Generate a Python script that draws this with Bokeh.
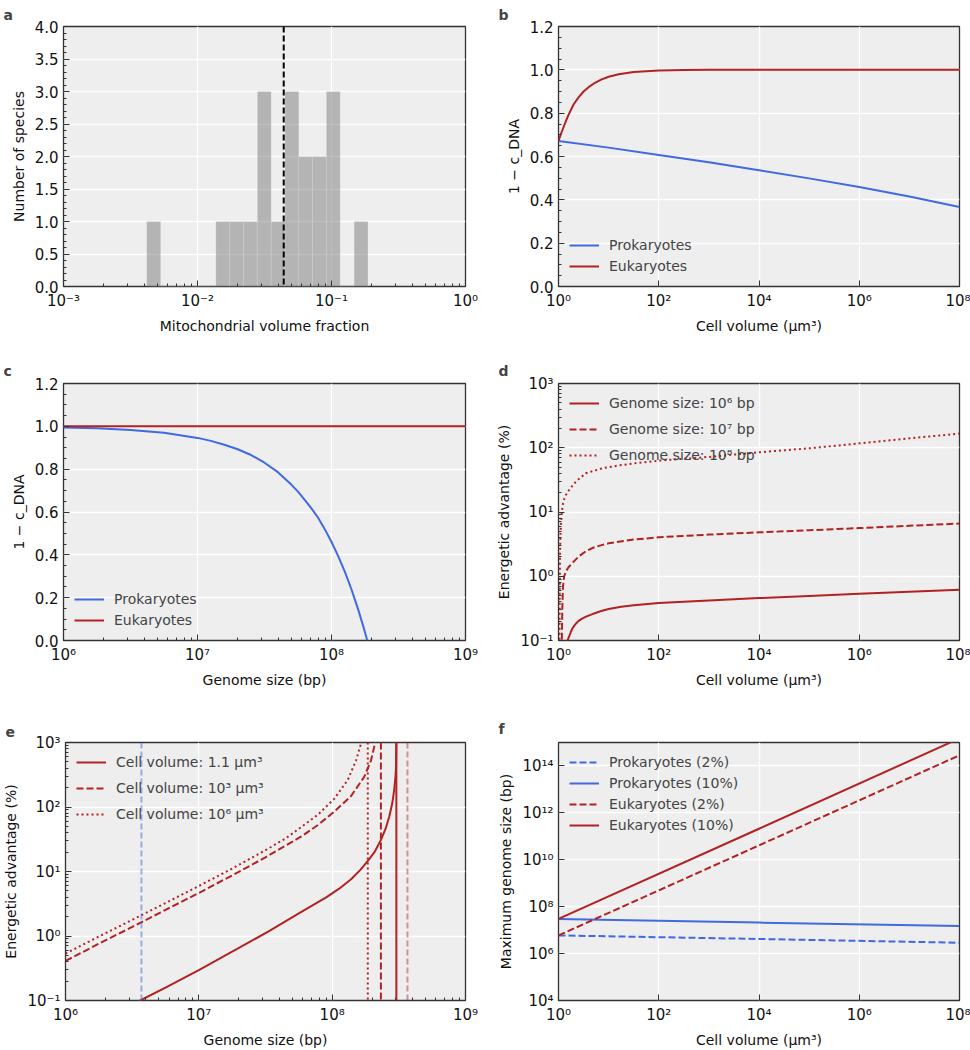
import numpy as np
from bokeh.plotting import figure
from bokeh.models import FixedTicker, CustomJSTickFormatter, PrintfTickFormatter, Span, Range1d
from bokeh.layouts import column, row
from bokeh.embed import file_html
from bokeh.resources import INLINE

FONT = "DejaVu Sans"
BG = "#eeeeee"
BLUE = "#4169e1"
RED = "#b22222"
DARK = "#333333"
TICK_FS = "15px"
LABEL_FS = "14px"
LEG_FS = "14px"
DASH = "7 3"
DOT = "2 3"

# ---------------- data ----------------
# (a) histogram of mitochondrial volume fraction (log10 bin edges, counts)
hist_log_edges = [-2.379, -2.275, -2.172, -2.069, -1.966, -1.863, -1.760, -1.657, -1.553,
                  -1.450, -1.347, -1.244, -1.141, -1.038, -0.935, -0.831, -0.728]
hist_counts = [1, 0, 0, 0, 0, 1, 1, 1, 3, 1, 3, 2, 2, 3, 0, 1]
mito_mean = 0.044

# (b) 1 - c_DNA vs cell volume
b_log_vol_prok = [0, 1, 2, 3, 4, 5, 6, 7, 8]
b_prok = [0.672, 0.641, 0.607, 0.573, 0.537, 0.499, 0.459, 0.415, 0.367]
b_log_vol_euk = [0, 0.05, 0.1, 0.15, 0.2, 0.3, 0.4, 0.5, 0.6, 0.7, 0.85, 1.0, 1.2, 1.5,
                 2.0, 2.5, 3.0, 8.0]
b_euk = [0.672, 0.705, 0.735, 0.765, 0.792, 0.84, 0.873, 0.9, 0.92, 0.936, 0.955, 0.968,
         0.98, 0.99, 0.997, 0.999, 1.0, 1.0]

# (c) 1 - c_DNA vs genome size
c_log_genome_prok = [6.0, 6.25, 6.5, 6.75, 7.0, 7.1, 7.2, 7.3, 7.4, 7.5, 7.6, 7.7, 7.75, 7.8,
                     7.85, 7.9, 7.95, 8.0, 8.05, 8.1, 8.15, 8.2, 8.24, 8.267]
c_prok = [0.995, 0.991, 0.983, 0.970, 0.946, 0.932, 0.914, 0.893, 0.866, 0.830, 0.786, 0.728,
          0.695, 0.657, 0.617, 0.573, 0.520, 0.460, 0.394, 0.320, 0.237, 0.143, 0.06, 0.0]
c_log_genome_euk = [6.0, 9.0]
c_euk = [1.0, 1.0]

# (d) energetic advantage vs cell volume
d_log_vol_1e6 = [0.16, 0.18, 0.2, 0.22, 0.25, 0.28, 0.32, 0.36, 0.41, 0.47, 0.55, 0.65, 0.75,
                 0.87, 1.0, 1.25, 1.5, 2.0, 3.0, 4.0, 5.0, 6.0, 7.0, 8.0]
d_adv_1e6 = [0.08, 0.1, 0.11, 0.12, 0.138, 0.155, 0.172, 0.188, 0.204, 0.219, 0.235, 0.253,
             0.27, 0.29, 0.31, 0.335, 0.353, 0.383, 0.42, 0.457, 0.494, 0.532, 0.572, 0.614]
d_log_vol_1e7 = [0.062, 0.066, 0.075, 0.09, 0.113, 0.15, 0.2, 0.28, 0.4, 0.545, 0.7, 0.877,
                 1.0, 1.3, 1.5, 2.0, 3.0, 4.0, 5.0, 6.0, 7.0, 8.0]
d_adv_1e7 = [0.05, 0.09, 0.3, 0.7, 1.0, 1.2, 1.38, 1.62, 2.02, 2.45, 2.8, 3.08, 3.25, 3.55,
             3.72, 4.04, 4.45, 4.82, 5.2, 5.62, 6.1, 6.6]
d_log_vol_1e8 = [0.018, 0.02, 0.024, 0.03, 0.04, 0.05, 0.066, 0.09, 0.12, 0.17, 0.25, 0.35,
                 0.545, 0.877, 1.2, 1.5, 2.0, 3.0, 4.0, 5.0, 6.0, 7.0, 8.0]
d_adv_1e8 = [0.05, 0.09, 0.5, 2.0, 4.5, 6.5, 10, 13.5, 16.5, 20, 24, 30, 40, 48, 53, 57, 63,
             72, 85, 98, 117, 140, 166]

# (e) energetic advantage vs genome size
e_log_genome_v1 = [6.5, 6.56, 6.75, 7.0, 7.52, 7.75, 7.955, 8.05, 8.142, 8.21, 8.266, 8.32,
                   8.366, 8.40, 8.428, 8.45, 8.465, 8.475, 8.479, 8.482]
e_adv_v1 = [0.085, 0.1, 0.158, 0.295, 1.17, 2.24, 3.98, 5.37, 7.59, 10.5, 14.5, 20.4, 30.9,
            45.7, 70.8, 112, 182, 302, 417, 1120]
e_log_genome_v3 = [6.0, 6.25, 6.5, 6.75, 7.0, 7.25, 7.5, 7.65, 7.769, 7.893, 8.017, 8.142,
                   8.241, 8.291, 8.321, 8.34]
e_adv_v3 = [0.41, 0.76, 1.38, 2.54, 4.64, 8.71, 16.6, 25.1, 34.9, 52.5, 85.1, 148, 295, 525,
            955, 1585]
e_log_genome_v6 = [6.0, 6.25, 6.5, 6.75, 7.0, 7.25, 7.5, 7.65, 7.769, 7.893, 8.017, 8.117,
                   8.179, 8.216, 8.235]
e_adv_v6 = [0.535, 0.98, 1.78, 3.24, 5.96, 11.1, 21.4, 32.4, 49, 75.9, 135, 263, 525, 955, 1585]
e_asymptotes = [3.03e8, 2.32e8, 1.85e8]
e_prok_limit = 3.71e6
e_euk_limit = 3.67e8

# (f) maximum genome size vs cell volume
f_log_vol = [0, 4, 8]
f_prok_2 = [5.96e6, 4.2e6, 2.9e6]
f_prok_10 = [3.0e7, 2.1e7, 1.5e7]
f_euk_2 = [5.96e6, 4.1e10, 2.85e14]
f_euk_10 = [3.0e7, 2.1e11, 1.5e15]

# ---------------- helpers ----------------
SUP_JS = """
const sup = {'-':'\u207b','0':'\u2070','1':'\u00b9','2':'\u00b2','3':'\u00b3','4':'\u2074',
             '5':'\u2075','6':'\u2076','7':'\u2077','8':'\u2078','9':'\u2079'};
const e = Math.round(Math.log10(tick));
return '10' + String(e).split('').map(c => sup[c]).join('');
"""


def pow10(vals):
    return [10.0 ** v for v in vals]


def log_ticks(e0, e1, step=1, minor=True):
    major = [10.0 ** e for e in range(e0, e1 + 1, step)]
    mn = []
    if minor:
        mn = [k * 10.0 ** e for e in range(e0, e1) for k in range(2, 10)]
    return FixedTicker(ticks=major, minor_ticks=mn)


def lin_ticks(top, step, nminor):
    n = int(round(top / step))
    major = [round(i * step, 6) for i in range(n + 1)]
    ms = step / nminor
    mn = [round(i * ms, 6) for i in range(int(round(top / ms)) + 1)]
    return FixedTicker(ticks=major, minor_ticks=mn)


def make_fig(w, h, xr, yr, xt, yt, bl, br, bt, bb, label, loff, tstand):
    p = figure(width=w, height=h, x_axis_type=xt, y_axis_type=yt, x_range=xr, y_range=yr,
               output_backend="svg", toolbar_location=None,
               min_border_left=bl, min_border_right=br, min_border_top=bt, min_border_bottom=bb)
    p.background_fill_color = BG
    p.border_fill_color = "white"
    p.outline_line_color = DARK
    p.outline_line_width = 1.3
    p.grid.grid_line_color = "white"
    p.grid.grid_line_width = 1.3
    for ax in p.axis:
        ax.axis_line_color = None
        ax.major_tick_in = 6
        ax.major_tick_out = 0
        ax.minor_tick_in = 3
        ax.minor_tick_out = 0
        ax.major_tick_line_color = DARK
        ax.minor_tick_line_color = DARK
        ax.major_label_text_font = FONT
        ax.major_label_text_font_size = TICK_FS
        ax.major_label_text_color = "#111111"
        ax.major_label_standoff = 5
        ax.axis_label_text_font = FONT
        ax.axis_label_text_font_size = LABEL_FS
        ax.axis_label_text_font_style = "normal"
        ax.axis_label_text_color = "#111111"
        ax.axis_label_standoff = 5
    p.title.text = label
    p.title.text_font = FONT
    p.title.text_font_style = "bold"
    p.title.text_font_size = "14px"
    p.title.align = "left"
    p.title.offset = loff
    p.title.standoff = tstand
    return p


def style_legend(p, loc, spacing):
    lg = p.legend[0]
    lg.location = loc
    lg.border_line_color = None
    lg.background_fill_alpha = 0
    lg.label_text_font = FONT
    lg.label_text_font_size = LEG_FS
    lg.glyph_width = 30
    lg.glyph_height = 18
    lg.label_height = 18
    lg.label_standoff = 10
    lg.spacing = spacing
    lg.margin = 11
    lg.padding = 8


LW, RW = 485, 485
H1, H2, H3 = 340, 350, 360
LB = dict(bl=63, br=20)
RB = dict(bl=73, br=11)
R1 = dict(bt=25, bb=54)
R2 = dict(bt=43, bb=46)
R3 = dict(bt=52, bb=48)

# ---------------- (a) ----------------
pa = make_fig(LW, H1, Range1d(1e-3, 1.0), Range1d(0, 4.0), "log", "linear",
              label="a", loff=-60, tstand=8, **LB, **R1)
pa.quad(left=pow10(hist_log_edges[:-1]), right=pow10(hist_log_edges[1:]), bottom=0,
        top=hist_counts, fill_color="#7a7a7a", fill_alpha=0.5,
        line_color="white", line_alpha=0.25, line_width=0.6)
pa.add_layout(Span(location=mito_mean, dimension="height", line_color="black",
                   line_width=2, line_dash="6 3"))
pa.xaxis.ticker = log_ticks(-3, 0)
pa.xaxis.formatter = CustomJSTickFormatter(code=SUP_JS)
pa.yaxis.ticker = lin_ticks(4.0, 0.5, 5)
pa.yaxis.formatter = PrintfTickFormatter(format="%.1f")
pa.xaxis.axis_label = "Mitochondrial volume fraction"
pa.yaxis.axis_label = "Number of species"

# ---------------- (b) ----------------
pb = make_fig(RW, H1, Range1d(1.0, 1e8), Range1d(0, 1.2), "log", "linear",
              label="b", loff=-60, tstand=8, **RB, **R1)
pb.line(pow10(b_log_vol_prok), b_prok, line_color=BLUE, line_width=2, legend_label="Prokaryotes")
pb.line(pow10(b_log_vol_euk), b_euk, line_color=RED, line_width=2, legend_label="Eukaryotes")
pb.xaxis.ticker = log_ticks(0, 8, 2, minor=False)
pb.xaxis.formatter = CustomJSTickFormatter(code=SUP_JS)
pb.yaxis.ticker = lin_ticks(1.2, 0.2, 4)
pb.yaxis.formatter = PrintfTickFormatter(format="%.1f")
pb.xaxis.axis_label = "Cell volume (\u03bcm\u00b3)"
pb.yaxis.axis_label = "1 \u2212 c_DNA"
style_legend(pb, "bottom_left", 3)

# ---------------- (c) ----------------
pc = make_fig(LW, H2, Range1d(1e6, 1e9), Range1d(0, 1.2), "log", "linear",
              label="c", loff=-60, tstand=9, **LB, **R2)
pc.line(pow10(c_log_genome_prok), c_prok, line_color=BLUE, line_width=2, legend_label="Prokaryotes")
pc.line(pow10(c_log_genome_euk), c_euk, line_color=RED, line_width=2, legend_label="Eukaryotes")
pc.xaxis.ticker = log_ticks(6, 9)
pc.xaxis.formatter = CustomJSTickFormatter(code=SUP_JS)
pc.yaxis.ticker = lin_ticks(1.2, 0.2, 4)
pc.yaxis.formatter = PrintfTickFormatter(format="%.1f")
pc.xaxis.axis_label = "Genome size (bp)"
pc.yaxis.axis_label = "1 \u2212 c_DNA"
style_legend(pc, "bottom_left", 3)

# ---------------- (d) ----------------
pd_ = make_fig(RW, H2, Range1d(1.0, 1e8), Range1d(0.1, 1e3), "log", "log",
               label="d", loff=-60, tstand=9, **RB, **R2)
pd_.line(pow10(d_log_vol_1e6), d_adv_1e6, line_color=RED, line_width=2,
         legend_label="Genome size: 10\u2076 bp")
pd_.line(pow10(d_log_vol_1e7), d_adv_1e7, line_color=RED, line_width=2, line_dash=DASH,
         legend_label="Genome size: 10\u2077 bp")
pd_.line(pow10(d_log_vol_1e8), d_adv_1e8, line_color=RED, line_width=2, line_dash=DOT,
         legend_label="Genome size: 10\u2078 bp")
pd_.xaxis.ticker = log_ticks(0, 8, 2, minor=False)
pd_.xaxis.formatter = CustomJSTickFormatter(code=SUP_JS)
pd_.yaxis.ticker = log_ticks(-1, 3)
pd_.yaxis.formatter = CustomJSTickFormatter(code=SUP_JS)
pd_.xaxis.axis_label = "Cell volume (\u03bcm\u00b3)"
pd_.yaxis.axis_label = "Energetic advantage (%)"
style_legend(pd_, "top_left", 8)

# ---------------- (e) ----------------
pe = make_fig(LW, H3, Range1d(1e6, 1e9), Range1d(0.1, 1e3), "log", "log",
              label="e", loff=-60, tstand=11, **LB, **R3)
pe.add_layout(Span(location=e_prok_limit, dimension="height", line_color=BLUE,
                   line_alpha=0.5, line_width=2, line_dash="6 3"))
pe.add_layout(Span(location=e_euk_limit, dimension="height", line_color=RED,
                   line_alpha=0.45, line_width=2, line_dash="6 3"))
for loc, dash in zip(e_asymptotes, ["solid", DASH, DOT]):
    pe.add_layout(Span(location=loc, dimension="height", line_color=RED,
                       line_width=2, line_dash=dash))
pe.line(pow10(e_log_genome_v1), e_adv_v1, line_color=RED, line_width=2,
        legend_label="Cell volume: 1.1 \u03bcm\u00b3")
pe.line(pow10(e_log_genome_v3), e_adv_v3, line_color=RED, line_width=2, line_dash=DASH,
        legend_label="Cell volume: 10\u00b3 \u03bcm\u00b3")
pe.line(pow10(e_log_genome_v6), e_adv_v6, line_color=RED, line_width=2, line_dash=DOT,
        legend_label="Cell volume: 10\u2076 \u03bcm\u00b3")
pe.xaxis.ticker = log_ticks(6, 9)
pe.xaxis.formatter = CustomJSTickFormatter(code=SUP_JS)
pe.yaxis.ticker = log_ticks(-1, 3)
pe.yaxis.formatter = CustomJSTickFormatter(code=SUP_JS)
pe.xaxis.axis_label = "Genome size (bp)"
pe.yaxis.axis_label = "Energetic advantage (%)"
style_legend(pe, "top_left", 8)

# ---------------- (f) ----------------
pf = make_fig(RW, H3, Range1d(1.0, 1e8), Range1d(1e4, 1e15), "log", "log",
              label="f", loff=-60, tstand=11, **RB, **R3)
xf = pow10(f_log_vol)
pf.line(xf, f_prok_2, line_color=BLUE, line_width=2, line_dash=DASH, legend_label="Prokaryotes (2%)")
pf.line(xf, f_prok_10, line_color=BLUE, line_width=2, legend_label="Prokaryotes (10%)")
pf.line(xf, f_euk_2, line_color=RED, line_width=2, line_dash=DASH, legend_label="Eukaryotes (2%)")
pf.line(xf, f_euk_10, line_color=RED, line_width=2, legend_label="Eukaryotes (10%)")
pf.xaxis.ticker = log_ticks(0, 8, 2, minor=False)
pf.xaxis.formatter = CustomJSTickFormatter(code=SUP_JS)
pf.yaxis.ticker = log_ticks(4, 14, 2, minor=False)
pf.yaxis.formatter = CustomJSTickFormatter(code=SUP_JS)
pf.xaxis.axis_label = "Cell volume (\u03bcm\u00b3)"
pf.yaxis.axis_label = "Maximum genome size (bp)"
style_legend(pf, "top_left", 3)

layout = column(row(pa, pb), row(pc, pd_), row(pe, pf))
open("out.html", "w").write(file_html(layout, INLINE))
